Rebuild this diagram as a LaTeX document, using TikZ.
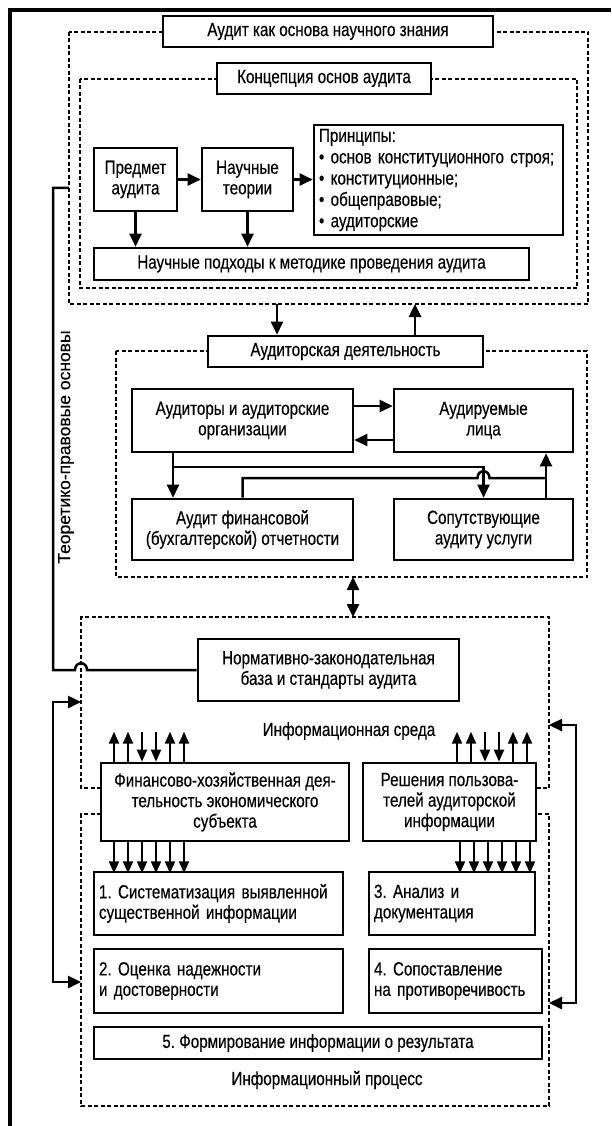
\documentclass[tikz,border=0pt]{standalone}
\usepackage{fontspec}
\setmainfont[FakeStretch=0.8,FakeBold=0.35]{Liberation Sans}
\newfontfamily\regfont[FakeBold=0.35]{Liberation Sans}
\usetikzlibrary{arrows.meta,calc}
\frenchspacing
\begin{document}
\begin{tikzpicture}[x=1pt,y=-1pt,
  txt/.style={font=\fontsize{19}{20.5}\selectfont},
  box/.style={txt, draw, line width=2.6pt, fill=white, inner sep=2pt, align=center},
  lbox/.style={box, align=left, inner xsep=5pt},
  dbox/.style={dash pattern=on 4pt off 2.5pt, line width=1.8pt},
  conn/.style={line width=2.5pt},
  arr/.style={conn, -{Triangle[length=13pt,width=12pt]}},
  darr/.style={conn, {Triangle[length=13pt,width=12pt]}-{Triangle[length=13pt,width=12pt]}},
  sarr/.style={line width=2pt, -{Triangle[length=12pt,width=10pt]}}
]
\useasboundingbox (0,0) rectangle (611,1126);
\fill[white] (0,0) rectangle (611,1126);
% outer frame (top and left visible)
\draw[line width=4pt] (10,1126) -- (10,10) -- (611,10);

% dashed frames
\draw[dbox] (69,32) rectangle (588,304);
\draw[dbox] (80,79) rectangle (577,288);
\draw[dbox] (116,351) rectangle (587,577);
\draw[dbox] (101,788) -- (81,788) -- (81,617) -- (549,617) -- (549,788) -- (536,788);
\draw[dbox] (101,814) -- (81,814) -- (81,1106) -- (549,1106) -- (549,814) -- (536,814);

% boxes
\node[box, minimum width=330pt, minimum height=31pt] (t1) at (328,31.5) {Аудит как основа научного знания};
\node[box, minimum width=214pt, minimum height=31pt] (t2) at (324,78.5) {Концепция основ аудита};
\node[box, minimum width=83pt, minimum height=63pt] (pred) at (135.5,179.5) {Предмет\\аудита};
\node[box, minimum width=91pt, minimum height=63pt] (theor) at (247.5,179.5) {Научные\\теории};
\node[lbox, text width=239pt, minimum height=110pt, font=\fontsize{19}{21.3}\selectfont] (princ) at (438.5,180) {Принципы:\\• основ конституционного строя;\\• конституционные;\\• общеправовые;\\• аудиторские};
\node[box, minimum width=435pt, minimum height=32pt] (appr) at (311.5,264) {Научные подходы к методике проведения аудита};

\node[box, minimum width=275pt, minimum height=31pt] (ad) at (345.5,351.5) {Аудиторская деятельность};
\node[box, minimum width=221pt, minimum height=63pt] (aud) at (242.5,420.5) {Аудиторы и аудиторские\\организации};
\node[box, minimum width=179pt, minimum height=63pt] (audd) at (483.5,420.5) {Аудируемые\\лица};
\node[box, minimum width=221pt, minimum height=61pt] (afo) at (242.5,529.5) {Аудит финансовой\\(бухгалтерской) отчетности};
\node[box, minimum width=179pt, minimum height=61pt] (sop) at (483.5,529.5) {Сопутствующие\\аудиту услуги};

\node[box, minimum width=261pt, minimum height=62pt] (norm) at (328.5,670) {Нормативно-законодательная\\база и стандарты аудита};
\node[txt] (sreda) at (349,731) {Информационная среда};
\node[box, minimum width=248pt, minimum height=78pt] (fin) at (225,802) {Финансово-хозяйственная дея-\\тельность экономического\\субъекта};
\node[box, minimum width=173pt, minimum height=78pt] (res) at (449.5,802) {Решения пользова-\\телей аудиторской\\информации};

\node[lbox, text width=239pt, minimum height=63pt] (p1) at (218.5,903.5) {1. Систематизация выявленной\\существенной информации};
\node[lbox, text width=156pt, minimum height=63pt] (p3) at (452,903.5) {3. Анализ и\\документация};
\node[lbox, text width=239pt, minimum height=64pt] (p2) at (218.5,981) {2. Оценка надежности\\и достоверности};
\node[lbox, text width=163pt, minimum height=64pt] (p4) at (455.5,981) {4. Сопоставление\\на противоречивость};
\node[box, minimum width=448pt, minimum height=32pt] (p5) at (318,1043) {5. Формирование информации о результата};
\node[txt] (proc) at (327,1080) {Информационный процесс};

\node[rotate=90, font=\regfont\fontsize{17.5}{20}\selectfont] (teor) at (66,447) {Теоретико-правовые основы};

% connectors, concept block
\draw[arr] (pred) -- (theor);
\draw[arr] (theor.east) -- (theor.east -| princ.west);
\draw[arr] (pred.south) -- (pred.south |- appr.north);
\draw[arr] (theor.south) -- (theor.south |- appr.north);

% between D1 and audit activity
\coordinate (d1a) at (277,304);
\coordinate (d1b) at (415,304);
\draw[arr] (d1a) -- (d1a |- ad.north);
\draw[arr] (d1b |- ad.north) -- (d1b);

% audit activity block
\draw[arr] ([yshift=14.5pt]aud.east) -- ([yshift=14.5pt]audd.west);
\draw[arr] ([yshift=-19.5pt]audd.west) -- ([yshift=-19.5pt]aud.east);
\coordinate (j1) at (173,467);
\draw[conn] (j1 |- aud.south) -- (j1);
\draw[arr] (j1) -- (j1 |- afo.north);
\draw[arr] (j1) -- (j1 -| sop.north) -- (sop.north);
\coordinate (j2) at (546,478);
\draw[conn] (afo.north) -- (afo.north |- j2) -- ($(j2 -| sop.north)+(-6,0)$) .. controls +(0,-9) and +(0,-9) .. ($(j2 -| sop.north)+(6,0)$) -- (j2);
\draw[arr] (j2 |- sop.north) -- (j2 |- audd.south);

% D3 <-> D4
\coordinate (d3b) at (353,577);
\coordinate (d4t) at (353,617);
\draw[darr] (d3b) -- (d4t);

% theoretical-legal line
\coordinate (d1l) at (69,188);
\coordinate (tl) at (53,188);
\coordinate (hopa) at (75,670);
\coordinate (hopb) at (87,670);
\draw[conn] (d1l) -- (tl) -- (tl |- norm.west) -- (hopa) .. controls +(0,-9) and +(0,-9) .. (hopb) -- (norm.west);

% left bracket
\coordinate (l1) at (81,702);
\coordinate (l2) at (81,982);
\draw[darr] (l1) -- ++(-28,0) |- (l2);
% right bracket
\coordinate (r1) at (549,725);
\coordinate (r2) at (549,1003);
\draw[darr] (r1) -- ++(27,0) |- (r2);

% small arrows, financial activity
\foreach \o in {-111,-97,-55,-41} \draw[sarr] ([xshift=\o pt]fin.north) -- ++(0,-30);
\foreach \o in {-83,-69} \draw[sarr] ([xshift=\o pt, yshift=30pt]fin.north) -- ([xshift=\o pt]fin.north);
\foreach \o in {-111,-97,-83,-69,-55,-41} \draw[sarr] ([xshift=\o pt]fin.south) -- ++(0,31);
% small arrows, users decisions
\foreach \o in {7.5,21.5,63.5,77.5} \draw[sarr] ([xshift=\o pt]res.north) -- ++(0,-30);
\foreach \o in {35.5,49.5} \draw[sarr] ([xshift=\o pt, yshift=30pt]res.north) -- ([xshift=\o pt]res.north);
\foreach \o in {10.5,24.5,38.5,52.5,66.5,80.5} \draw[sarr] ([xshift=\o pt]res.south) -- ++(0,31);
\end{tikzpicture}
\end{document}
